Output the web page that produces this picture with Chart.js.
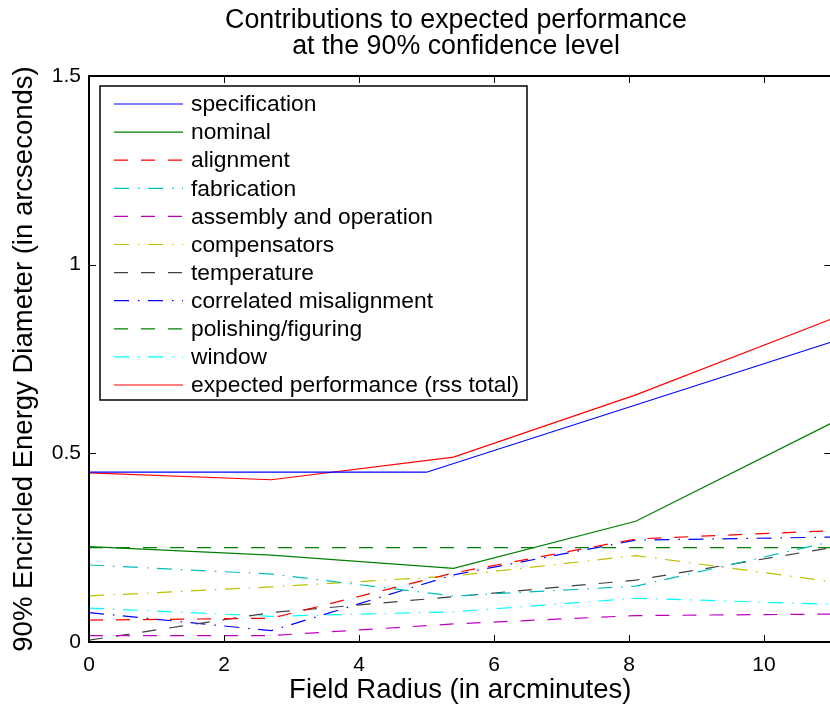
<!DOCTYPE html>
<html lang="en">
<head>
<meta charset="UTF-8">
<title>Contributions to expected performance</title>
<script src="https://cdn.jsdelivr.net/npm/chart.js"></script>
<style>
  html, body { margin: 0; padding: 0; background: #fff; overflow: hidden; }
  #wrap { width: 830px; height: 708px; overflow: hidden; }
</style>
</head>
<body>
<div id="wrap">
  <canvas id="grafico" width="840" height="708"></canvas>
</div>
<script>
// field radius (arcminutes) where each contribution was evaluated
const radius = [0, 2.7, 5.4, 8.1, 11];
const specRadius = [0, 5, 11];

// 90% encircled energy diameter (arcseconds)
const specification = [0.45, 0.45, 0.795];
const nominal = [0.253, 0.23, 0.195, 0.32, 0.58];
const alignment = [0.058, 0.063, 0.183, 0.273, 0.295];
const fabrication = [0.204, 0.18, 0.122, 0.148, 0.266];
const assembly = [0.017, 0.017, 0.048, 0.07, 0.074];
const compensators = [0.122, 0.146, 0.175, 0.229, 0.16];
const temperature = [0.005, 0.078, 0.12, 0.164, 0.25];
const correlated = [0.078, 0.03, 0.178, 0.27, 0.278];
const polishing = [0.25, 0.25, 0.25, 0.25, 0.25];
const windowErr = [0.09, 0.068, 0.08, 0.116, 0.1];
const expected = [0.448, 0.43, 0.49, 0.655, 0.856];

const xTicks = [0, 2, 4, 6, 8, 10];
const yTicks = [0, 0.5, 1, 1.5];

const FONT = "'Liberation Sans', Arial, Helvetica, sans-serif";
const DASH = [14, 13];
const DASHDOT = [15, 9, 1.5, 8.5];

function pts(xs, ys) {
  return ys.map((y, i) => ({ x: xs[i], y: y }));
}

function serie(label, xs, ys, color, dash) {
  return {
    label: label,
    data: pts(xs, ys),
    borderColor: color,
    backgroundColor: color,
    borderWidth: 1.2,
    borderDash: dash,
    pointRadius: 0,
    tension: 0,
    fill: false
  };
}

const datasets = [
  serie('specification', specRadius, specification, '#0000ff', []),
  serie('nominal', radius, nominal, '#008000', []),
  serie('alignment', radius, alignment, '#ff0000', DASH),
  serie('fabrication', radius, fabrication, '#00bfbf', DASHDOT),
  serie('assembly and operation', radius, assembly, '#bf00bf', DASH),
  serie('compensators', radius, compensators, '#bfbf00', DASHDOT),
  serie('temperature', radius, temperature, '#404040', DASH),
  serie('correlated misalignment', radius, correlated, '#0000ff', DASHDOT),
  serie('polishing/figuring', radius, polishing, '#008000', DASH),
  serie('window', radius, windowErr, '#00ffff', DASHDOT),
  serie('expected performance (rss total)', radius, expected, '#ff0000', [])
];

// frame with inward ticks, legend box inside the axes, and the title
const matlabLook = {
  id: 'matlabLook',
  afterDraw(chart) {
    const ctx = chart.ctx;
    const a = chart.chartArea;
    const xs = chart.scales.x, ys = chart.scales.y;
    ctx.save();
    ctx.strokeStyle = '#000';
    ctx.lineWidth = 2;
    ctx.setLineDash([]);
    ctx.strokeRect(a.left, a.top, a.right - a.left, a.bottom - a.top);
    ctx.lineWidth = 1;
    ctx.beginPath();
    xTicks.forEach(v => {
      const px = Math.round(xs.getPixelForValue(v)) + 0.5;
      ctx.moveTo(px, a.bottom); ctx.lineTo(px, a.bottom - 7);
      ctx.moveTo(px, a.top); ctx.lineTo(px, a.top + 7);
    });
    yTicks.forEach(v => {
      const py = Math.round(ys.getPixelForValue(v)) + 0.5;
      ctx.moveTo(a.left, py); ctx.lineTo(a.left + 7, py);
      ctx.moveTo(a.right, py); ctx.lineTo(a.right - 7, py);
    });
    ctx.stroke();

    // legend
    const bx = 100, by = 86, bw = 427, bh = 314;
    ctx.fillStyle = '#fff';
    ctx.fillRect(bx, by, bw, bh);
    ctx.lineWidth = 1.5;
    ctx.strokeStyle = '#000';
    ctx.strokeRect(bx, by, bw, bh);
    ctx.font = '22.8px ' + FONT;
    ctx.textBaseline = 'middle';
    ctx.textAlign = 'left';
    chart.data.datasets.forEach((ds, i) => {
      const y = 104 + i * 28.1;
      ctx.strokeStyle = ds.borderColor;
      ctx.lineWidth = ds.borderWidth;
      ctx.setLineDash(ds.borderDash);
      ctx.beginPath();
      ctx.moveTo(114, y); ctx.lineTo(183, y);
      ctx.stroke();
      ctx.setLineDash([]);
      ctx.fillStyle = '#000';
      ctx.fillText(ds.label, 191, y + 1);
    });

    // title
    ctx.font = '26.8px ' + FONT;
    ctx.textAlign = 'center';
    ctx.textBaseline = 'alphabetic';
    ctx.fillStyle = '#000';
    ctx.fillText('Contributions to expected performance', 456, 27.5);
    ctx.fillText('at the 90% confidence level', 456, 54);
    ctx.restore();
  }
};

Chart.defaults.font.family = FONT;
Chart.defaults.color = '#000';

new Chart(document.getElementById('grafico'), {
  type: 'line',
  data: { datasets: datasets },
  options: {
    responsive: false,
    animation: false,
    layout: { padding: { top: 76, right: 8.5, left: 0, bottom: 0 } },
    plugins: {
      legend: { display: false },
      title: { display: false },
      tooltip: { enabled: false }
    },
    scales: {
      x: {
        type: 'linear',
        min: 0,
        max: 11,
        grid: { display: false, drawTicks: false },
        border: { display: false },
        afterBuildTicks: s => { s.ticks = xTicks.map(v => ({ value: v })); },
        afterFit: s => { s.height = 66; },
        ticks: { font: { size: 21 }, padding: 11, maxRotation: 0, callback: v => String(v) },
        title: {
          display: true,
          text: 'Field Radius (in arcminutes)',
          font: { size: 27.5 },
          padding: { top: 0, bottom: 1 }
        }
      },
      y: {
        min: 0,
        max: 1.5,
        grid: { display: false, drawTicks: false },
        border: { display: false },
        afterBuildTicks: s => { s.ticks = yTicks.map(v => ({ value: v })); },
        afterFit: s => { s.width = 89; },
        ticks: { font: { size: 21 }, padding: 8, callback: v => String(v) },
        title: {
          display: true,
          text: '90% Encircled Energy Diameter (in arcseconds)',
          font: { size: 27.5 },
          padding: { top: 8, bottom: 0 }
        }
      }
    }
  },
  plugins: [matlabLook]
});
</script>
</body>
</html>
